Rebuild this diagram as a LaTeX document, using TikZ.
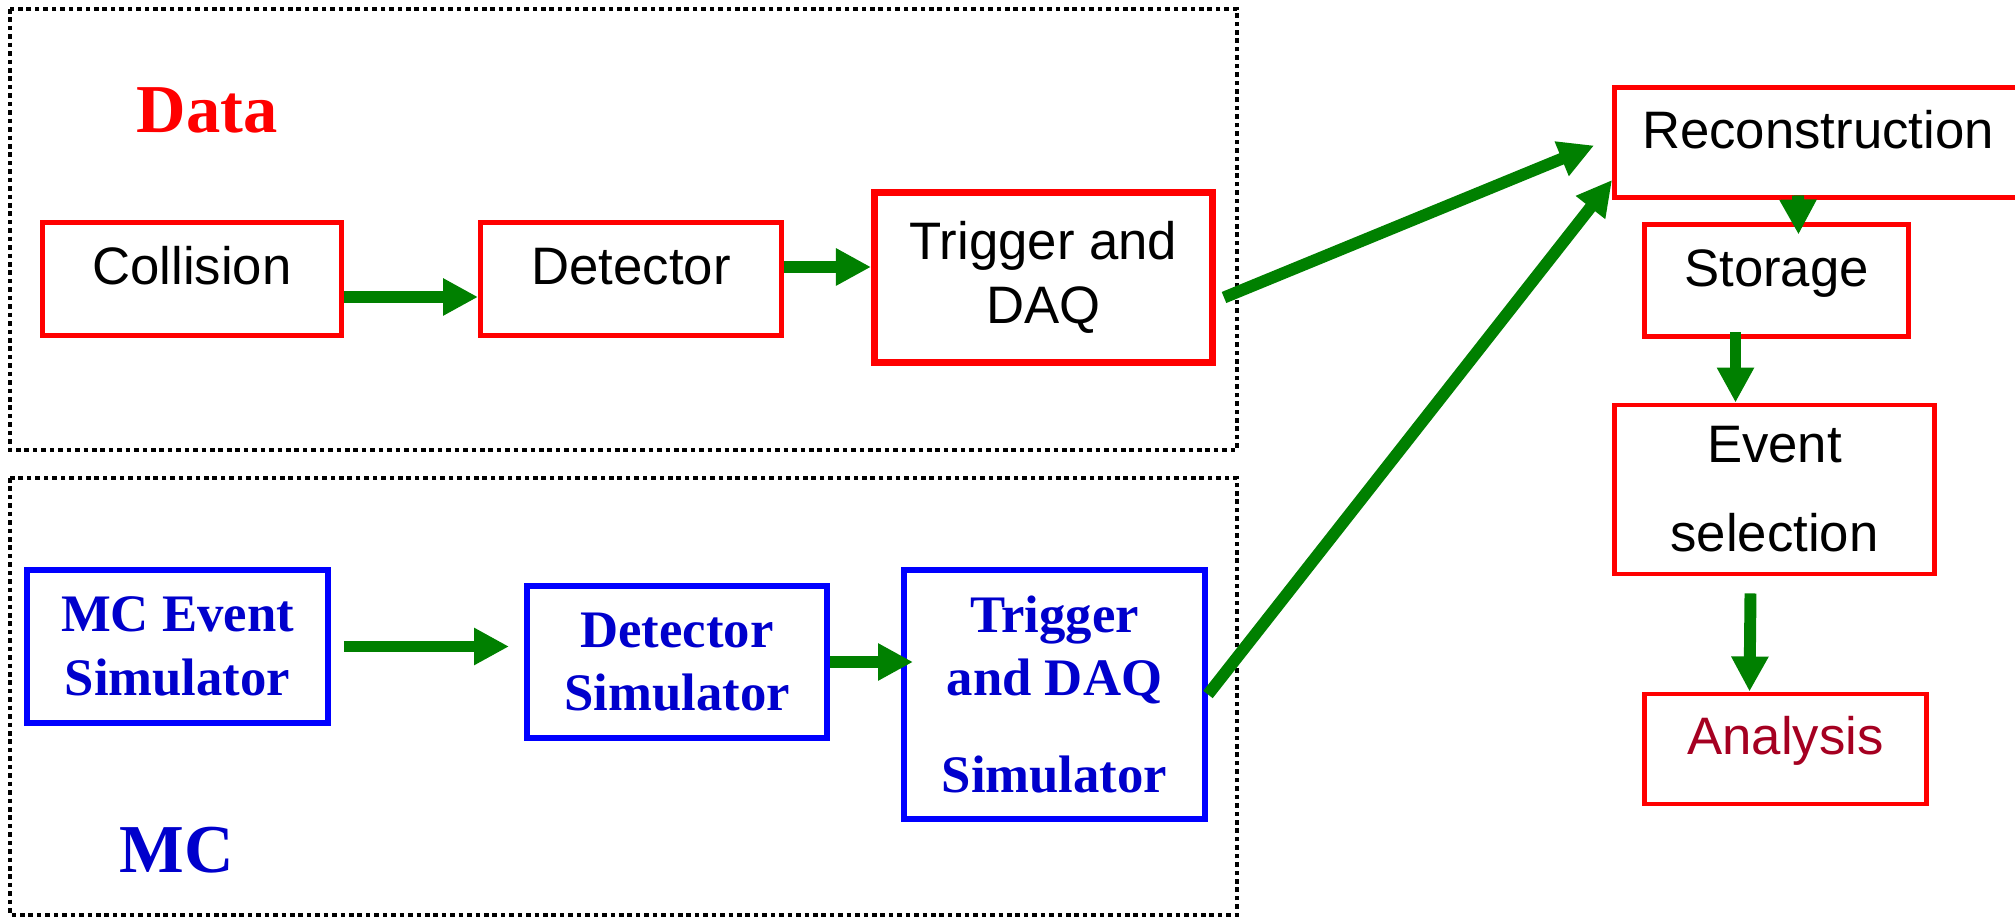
\documentclass[tikz,border=0pt]{standalone}
\usepackage{fontspec}
\setmainfont{Liberation Sans}
\newfontfamily\timesfont{Liberation Serif}
\usetikzlibrary{arrows.meta,positioning}
\definecolor{datared}{RGB}{255,0,0}
\definecolor{mcblue}{RGB}{0,0,255}
\definecolor{mctext}{RGB}{0,0,204}
\definecolor{flowgreen}{RGB}{0,128,0}
\definecolor{anacolor}{RGB}{165,0,33}

\begin{document}
\begin{tikzpicture}[
    databox/.style={draw=datared,line width=1.4pt,align=center,inner sep=0pt,
        font=\fontsize{15}{18}\selectfont},
    lifted/.style={text height=0.4cm,text depth=0.28cm},
    mcbox/.style={draw=mcblue,line width=1.7pt,align=center,inner sep=0pt,text=mctext,
        font=\timesfont\bfseries\fontsize{15}{18}\selectfont},
    flowarrow/.style={draw=flowgreen,line width=3.4pt,-{Triangle[length=0.35cm,width=0.35cm]}},
    dotframe/.style={line width=1.2pt,dash pattern=on 1.3pt off 1.1pt},
    biglabel/.style={font=\timesfont\bfseries\fontsize{19.5}{23}\selectfont}
]
    \useasboundingbox (0,0) rectangle (20.15,9.18);

    % Draw the two dotted frames
    \draw[dotframe] (0.10,9.09) rectangle (12.37,4.68);
    \draw[dotframe] (0.10,4.40) rectangle (12.37,0.03);

    % Data chain
    \node[biglabel,text=datared] (datalabel) at (2.07,8.08) {Data};
    \node[databox,lifted,minimum width=2.99cm,minimum height=1.13cm] (coll) at (1.92,6.39) {Collision};
    \node[databox,lifted,minimum width=3.01cm,minimum height=1.13cm] (det) at (6.31,6.39) {Detector};
    \node[databox,line width=2pt,minimum width=3.38cm,minimum height=1.70cm] (trig) at (10.435,6.405) {Trigger and\\DAQ};

    % MC chain
    \node[mcbox,minimum width=3.01cm,minimum height=1.53cm] (mcev) at (1.775,2.715) {MC Event\\Simulator};
    \node[mcbox,minimum width=3.00cm,minimum height=1.52cm] (dsim) at (6.77,2.56) {Detector\\Simulator};
    \node[mcbox,minimum width=3.01cm,minimum height=2.49cm] (tsim) at (10.545,2.235) {Trigger\\and DAQ\\[0.34cm]Simulator};
    \node[biglabel,text=mctext] (mclabel) at (1.77,0.68) {MC};

    % Processing column
    \node[databox,lifted,minimum width=4.07cm,minimum height=1.10cm] (reco) at (18.18,7.755) {Reconstruction};
    \node[databox,lifted,minimum width=2.64cm,minimum height=1.12cm] (stor) at (17.765,6.375) {Storage};
    \node[databox,minimum width=3.20cm,minimum height=1.69cm] (evsel) at (17.745,4.285) {Event\\[0.255cm]selection};
    \node[databox,lifted,text=anacolor,minimum width=2.82cm,minimum height=1.10cm] (anal) at (17.855,1.69) {Analysis};

    % Arrows of the data chain
    \draw[flowarrow] ([yshift=-0.18cm]coll.east) -- ([yshift=-0.18cm]det.west);
    \draw[flowarrow] ([yshift=0.12cm]det.east) -- ([yshift=0.105cm]trig.west);

    % Arrows of the MC chain
    \draw[flowarrow,shorten <=0.13cm,shorten >=0.15cm] (mcev.east) -- (mcev.east -| dsim.west);
    \draw[flowarrow,shorten >=-0.12cm] (dsim.east) -- (dsim.east -| tsim.west);

    % Both chains feed the reconstruction
    \draw[flowarrow] ([xshift=0.08cm,yshift=-0.2cm]trig.east) -- ([xshift=-0.18cm,yshift=-0.03cm]reco.west);
    \draw[flowarrow] (tsim.east) -- ([yshift=-0.375cm]reco.west);

    % Down the processing column
    \draw[flowarrow] ([xshift=-0.2cm,yshift=0.045cm]reco.south) -- ([xshift=0.22cm,yshift=-0.125cm]stor.north);
    \draw[flowarrow] ([xshift=-0.41cm,yshift=0.065cm]stor.south) -- ([xshift=-0.39cm]evsel.north);
    \draw[flowarrow] ([xshift=-0.24cm,yshift=-0.17cm]evsel.south) -- ([xshift=-0.36cm]anal.north);
\end{tikzpicture}
\end{document}
